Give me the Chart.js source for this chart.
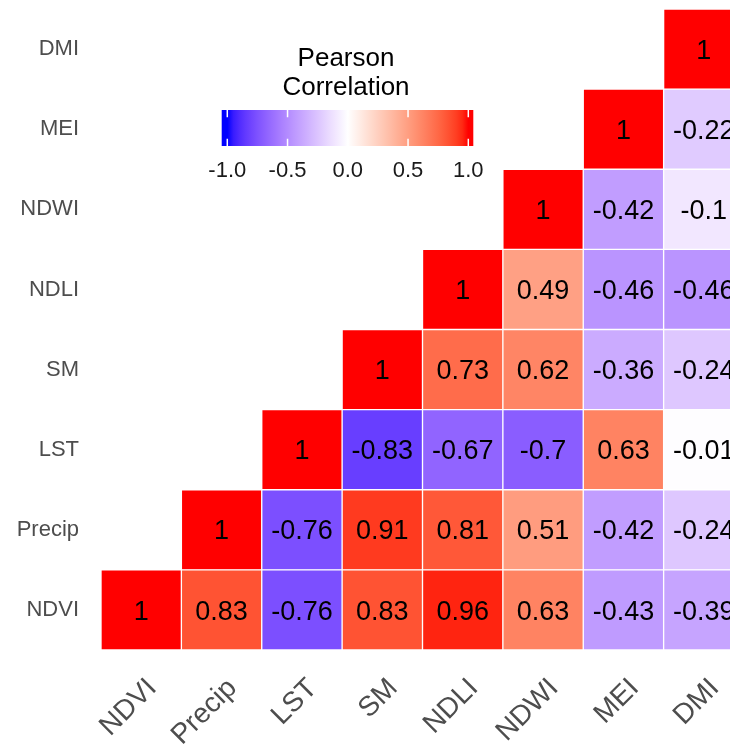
<!DOCTYPE html>
<html>
<head>
<meta charset="utf-8">
<title>Pearson correlation matrix</title>
<script src="https://cdn.jsdelivr.net/npm/chart.js@4.4.1/dist/chart.umd.min.js"></script>
<style>
  html, body { margin: 0; padding: 0; width: 730px; height: 746px; overflow: hidden; background: #ffffff; }
  #wrap { position: absolute; left: 0; top: 0; width: 744px; height: 746px; }
</style>
</head>
<body>
<div id="wrap"><canvas id="corr" width="744" height="746"></canvas></div>
<script>
// Variables, in axis order (bottom-to-top on y, left-to-right on x)
const variables = ['NDVI', 'Precip', 'LST', 'SM', 'NDLI', 'NDWI', 'MEI', 'DMI'];

// Each row: correlation of the variable with itself and every variable after it
const corrNDVI   = [1, 0.83, -0.76, 0.83, 0.96, 0.63, -0.43, -0.39];
const corrPrecip = [1, -0.76, 0.91, 0.81, 0.51, -0.42, -0.24];
const corrLST    = [1, -0.83, -0.67, -0.7, 0.63, -0.01];
const corrSM     = [1, 0.73, 0.62, -0.36, -0.24];
const corrNDLI   = [1, 0.49, -0.46, -0.46];
const corrNDWI   = [1, -0.42, -0.1];
const corrMEI    = [1, -0.22];
const corrDMI    = [1];

// Colour bar breaks
const legendTicks = [-1, -0.5, 0, 0.5, 1];
const legendTickLabels = ['-1.0', '-0.5', '0.0', '0.5', '1.0'];

const FONT = '"Liberation Sans", Arial, Helvetica, sans-serif';
const AXIS_GREY = '#4d4d4d';

// ---- diverging blue-white-red palette, interpolated in CIE Lab ----
function toLin(c) { c /= 255; return c <= 0.04045 ? c / 12.92 : Math.pow((c + 0.055) / 1.055, 2.4); }
function fromLin(c) {
  c = c <= 0.0031308 ? 12.92 * c : 1.055 * Math.pow(c, 1 / 2.4) - 0.055;
  return Math.round(Math.max(0, Math.min(1, c)) * 255);
}
const Xn = 0.95047, Yn = 1.0, Zn = 1.08883;
function fLab(t) { return t > 0.008856 ? Math.cbrt(t) : 7.787 * t + 16 / 116; }
function fInv(t) { return t > 0.206893 ? t * t * t : (t - 16 / 116) / 7.787; }
function rgbToLab(rgb) {
  const R = toLin(rgb[0]), G = toLin(rgb[1]), B = toLin(rgb[2]);
  const X = 0.4124 * R + 0.3576 * G + 0.1805 * B;
  const Y = 0.2126 * R + 0.7152 * G + 0.0722 * B;
  const Z = 0.0193 * R + 0.1192 * G + 0.9505 * B;
  const fx = fLab(X / Xn), fy = fLab(Y / Yn), fz = fLab(Z / Zn);
  return [116 * fy - 16, 500 * (fx - fy), 200 * (fy - fz)];
}
function labToRgb(lab) {
  const fy = (lab[0] + 16) / 116, fx = fy + lab[1] / 500, fz = fy - lab[2] / 200;
  const X = Xn * fInv(fx), Y = Yn * fInv(fy), Z = Zn * fInv(fz);
  const R =  3.2406 * X - 1.5372 * Y - 0.4986 * Z;
  const G = -0.9689 * X + 1.8758 * Y + 0.0415 * Z;
  const B =  0.0557 * X - 0.2040 * Y + 1.0570 * Z;
  return [fromLin(R), fromLin(G), fromLin(B)];
}
const LAB_LOW = rgbToLab([0, 0, 255]);
const LAB_MID = rgbToLab([255, 255, 255]);
const LAB_HIGH = rgbToLab([255, 0, 0]);
function fillFor(v) {
  v = Math.max(-1, Math.min(1, v));
  const end = v >= 0 ? LAB_HIGH : LAB_LOW;
  const t = Math.abs(v);
  const lab = [0, 1, 2].map(k => LAB_MID[k] + (end[k] - LAB_MID[k]) * t);
  const c = labToRgb(lab);
  return 'rgb(' + c[0] + ',' + c[1] + ',' + c[2] + ')';
}

// ---- one floating-bar dataset per row of the lower triangle ----
const rows = [corrNDVI, corrPrecip, corrLST, corrSM, corrNDLI, corrNDWI, corrMEI, corrDMI];
const datasets = rows.map((vals, j) => {
  const full = variables.map((_, i) => (i >= j ? vals[i - j] : null));
  return {
    label: variables[j],
    data: full.map(v => (v === null ? null : [j, j + 1])),
    corr: full,
    backgroundColor: full.map(v => (v === null ? 'rgba(0,0,0,0)' : fillFor(v))),
    borderColor: '#ffffff',
    borderWidth: 1,
    borderSkipped: false,
    grouped: false,
    barPercentage: 1,
    categoryPercentage: 1
  };
});

// Correlation value printed in the middle of each tile
const cellText = {
  id: 'cellText',
  afterDatasetsDraw(chart) {
    const ctx = chart.ctx;
    const size = 27;
    ctx.save();
    ctx.font = size + 'px ' + FONT;
    ctx.fillStyle = '#000000';
    ctx.textAlign = 'center';
    ctx.textBaseline = 'alphabetic';
    chart.data.datasets.forEach((ds, j) => {
      const meta = chart.getDatasetMeta(j);
      meta.data.forEach((bar, i) => {
        const v = ds.corr[i];
        if (v === null) return;
        const cy = (bar.y + bar.base) / 2;
        ctx.fillText(String(v), bar.x, cy + size * 0.716 / 2);
      });
    });
    ctx.restore();
  }
};

// Colour bar legend with title and breaks
const colourBar = {
  id: 'colourBar',
  afterDraw(chart) {
    const ctx = chart.ctx;
    const x0 = 221.7, x1 = 473.3, y0 = 110, y1 = 146;
    const zero = 347.8, unit = 120.5;
    const px = v => zero + v * unit;
    ctx.save();

    ctx.fillStyle = '#000000';
    ctx.textAlign = 'center';
    ctx.textBaseline = 'alphabetic';
    ctx.font = '26px ' + FONT;
    ctx.fillText('Pearson', 346, 66);
    ctx.fillText('Correlation', 346, 95);

    const grad = ctx.createLinearGradient(x0, 0, x1, 0);
    grad.addColorStop(0, fillFor(-1));
    for (let k = 0; k <= 40; k++) {
      const v = -1 + (2 * k) / 40;
      grad.addColorStop((px(v) - x0) / (x1 - x0), fillFor(v));
    }
    grad.addColorStop(1, fillFor(1));
    ctx.fillStyle = grad;
    ctx.fillRect(x0, y0, x1 - x0, y1 - y0);

    ctx.strokeStyle = '#ffffff';
    ctx.lineWidth = 1.5;
    const tl = (y1 - y0) / 5;
    legendTicks.forEach(v => {
      const x = px(v);
      ctx.beginPath();
      ctx.moveTo(x, y0); ctx.lineTo(x, y0 + tl);
      ctx.moveTo(x, y1 - tl); ctx.lineTo(x, y1);
      ctx.stroke();
    });

    ctx.fillStyle = '#1a1a1a';
    ctx.font = '22px ' + FONT;
    legendTicks.forEach((v, k) => ctx.fillText(legendTickLabels[k], px(v), 177));
    ctx.restore();
  }
};

Chart.defaults.font.family = FONT;

new Chart(document.getElementById('corr'), {
  type: 'bar',
  data: { labels: variables, datasets: datasets },
  plugins: [cellText, colourBar],
  options: {
    responsive: false,
    animation: false,
    events: [],
    layout: { padding: { top: 9, left: 0, right: 0, bottom: 0 } },
    plugins: { legend: { display: false }, tooltip: { enabled: false } },
    scales: {
      x: {
        type: 'category',
        grid: { display: false, drawTicks: false },
        border: { display: false },
        ticks: {
          autoSkip: false,
          minRotation: 45,
          maxRotation: 45,
          padding: 22,
          labelOffset: 11,
          color: AXIS_GREY,
          font: { size: 28, family: FONT }
        },
        afterFit(scale) {
          scale.height = 96;
          scale.paddingLeft = 0;
          scale.paddingRight = 0;
        }
      },
      y: {
        type: 'linear',
        min: 0,
        max: 8,
        grid: { display: false, drawTicks: false },
        border: { display: false },
        afterBuildTicks(scale) {
          scale.ticks = variables.map((_, j) => ({ value: j + 0.5 }));
        },
        ticks: {
          padding: 22,
          color: AXIS_GREY,
          font: { size: 22, family: FONT },
          callback: (value, index) => variables[index]
        },
        afterFit(scale) {
          scale.width = 101;
          scale.paddingTop = 0;
          scale.paddingBottom = 0;
        }
      }
    }
  }
});
</script>
</body>
</html>
